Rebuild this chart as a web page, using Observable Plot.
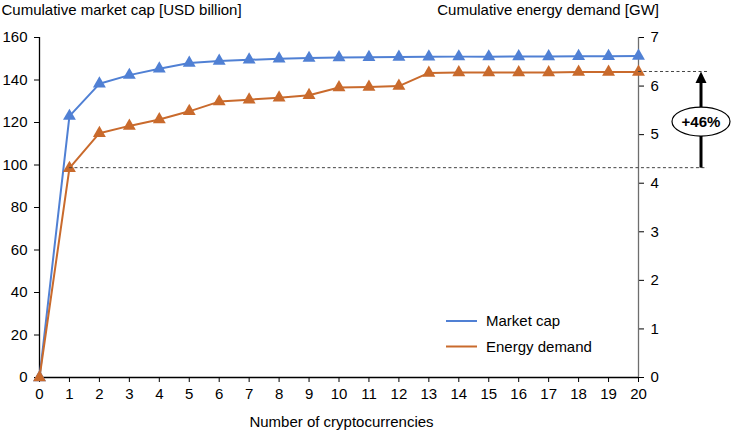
<!DOCTYPE html>
<html><head><meta charset="utf-8">
<script src="https://cdn.jsdelivr.net/npm/d3@7"></script>
<script src="https://cdn.jsdelivr.net/npm/@observablehq/plot@0.6"></script>
<style>
body{margin:0;background:#fff;}
#chart svg{font-family:"Liberation Sans",Arial,sans-serif;}
</style>
</head><body><div id="chart"></div>
<script>
const counts = d3.range(0, 21);
const marketCap = [0, 123, 138.2, 142.3, 145.3, 148, 148.9, 149.5, 150, 150.3, 150.6, 150.7, 150.8, 150.9, 151, 151, 151.1, 151.1, 151.2, 151.2, 151.3];
const energyDemand = [0, 4.31, 5.03, 5.18, 5.31, 5.48, 5.68, 5.72, 5.76, 5.81, 5.97, 5.98, 6.00, 6.27, 6.28, 6.28, 6.28, 6.28, 6.29, 6.29, 6.29];
const leftTicks = [0, 20, 40, 60, 80, 100, 120, 140, 160];
const rightTicks = [0, 1, 2, 3, 4, 5, 6, 7];
const seriesNames = ["Market cap", "Energy demand"];
const colors = ["#5080d4", "#c96a2c"];
const titles = ["Cumulative market cap [USD billion]", "Cumulative energy demand [GW]", "Number of cryptocurrencies"];

const K = 160 / 7; // GW -> left-axis units
const rows = counts.flatMap((n, i) => [
  {n, v: marketCap[i], s: seriesNames[0]},
  {n, v: energyDemand[i] * K, s: seriesNames[1]}
]);
const last = energyDemand.length - 1;
const lo = energyDemand[1] * K, hi = energyDemand[last] * K;
const pct = "+" + Math.round((energyDemand[last] / energyDemand[1] - 1) * 100) + "%";

const FS = 15;
const plot = Plot.plot({
  width: 736, height: 433,
  marginLeft: 39, marginRight: 98, marginTop: 37, marginBottom: 56,
  style: {fontSize: FS + "px", fontFamily: "'Liberation Sans', Arial, sans-serif", color: "#000", background: "#fff"},
  x: {domain: [0, 20]},
  y: {domain: [0, 160]},
  color: {domain: seriesNames, range: colors},
  marks: [
    Plot.axisY(leftTicks, {anchor: "left", tickSize: 5, tickPadding: 7, label: null, fontSize: FS}),
    Plot.axisY(rightTicks.map(d => d * K), {anchor: "right", tickSize: 5, tickPadding: 7, label: null, tickFormat: d => String(Math.round(d / K)), fontSize: FS}),
    Plot.axisX(counts, {anchor: "bottom", tickSize: 5, tickPadding: 6, label: null, fontSize: FS}),
    Plot.ruleX([20], {stroke: "#6e6e6e", strokeWidth: 1.3}),
    Plot.ruleX([0], {stroke: "#000", strokeWidth: 1.3}),
    Plot.ruleY([0], {stroke: "#000", strokeWidth: 1.3}),
    Plot.line(rows, {x: "n", y: "v", z: "s", stroke: "s", strokeWidth: 2}),
    Plot.dot(rows, {x: "n", y: "v", fill: "s", symbol: "triangle", r: 4.8})
  ]
});

const sx = plot.scale("x").apply, sy = plot.scale("y").apply;
const svg = d3.select(plot);

// axis titles
const tg = svg.append("g").attr("font-size", FS).attr("fill", "#000");
tg.append("text").attr("x", 1.5).attr("y", 14.5).attr("text-anchor", "start").text(titles[0]);
tg.append("text").attr("x", 659).attr("y", 14.5).attr("text-anchor", "end").text(titles[1]);
tg.append("text").attr("x", (sx(0) + sx(20)) / 2 + 3).attr("y", 427).attr("text-anchor", "middle").text(titles[2]);

// annotation
const g = svg.append("g");
const xEnd = sx(20) + 69, xArrow = sx(20) + 63;
g.append("line").attr("x1", sx(1)).attr("x2", xEnd).attr("y1", sy(lo)).attr("y2", sy(lo))
  .attr("stroke", "#444").attr("stroke-dasharray", "3,2.5").attr("stroke-width", 1);
g.append("line").attr("x1", sx(last)).attr("x2", xEnd).attr("y1", sy(hi)).attr("y2", sy(hi))
  .attr("stroke", "#444").attr("stroke-dasharray", "3,2.5").attr("stroke-width", 1);
g.append("line").attr("x1", xArrow).attr("x2", xArrow).attr("y1", sy(lo)).attr("y2", sy(hi) + 10)
  .attr("stroke", "#000").attr("stroke-width", 3);
g.append("path").attr("d", `M${xArrow},${sy(hi)} l-5.5,11.5 l11,0 z`).attr("fill", "#000");
const yMid = (sy(lo) + sy(hi)) / 2 + 2;
g.append("ellipse").attr("cx", xArrow).attr("cy", yMid).attr("rx", 29).attr("ry", 14.5)
  .attr("fill", "#fff").attr("stroke", "#000").attr("stroke-width", 1.2);
g.append("text").attr("x", xArrow).attr("y", yMid).attr("dy", "0.36em").attr("text-anchor", "middle")
  .attr("font-weight", "bold").attr("font-size", 15).text(pct);

// legend
const lg = svg.append("g");
seriesNames.forEach((name, i) => {
  const y = 321 + i * 25.5;
  lg.append("line").attr("x1", 446).attr("x2", 477).attr("y1", y).attr("y2", y)
    .attr("stroke", colors[i]).attr("stroke-width", 2);
  lg.append("text").attr("x", 486).attr("y", y).attr("dy", "0.35em").attr("text-anchor", "start")
    .attr("font-size", FS).text(name);
});

document.getElementById("chart").append(plot);
</script>
</body></html>
